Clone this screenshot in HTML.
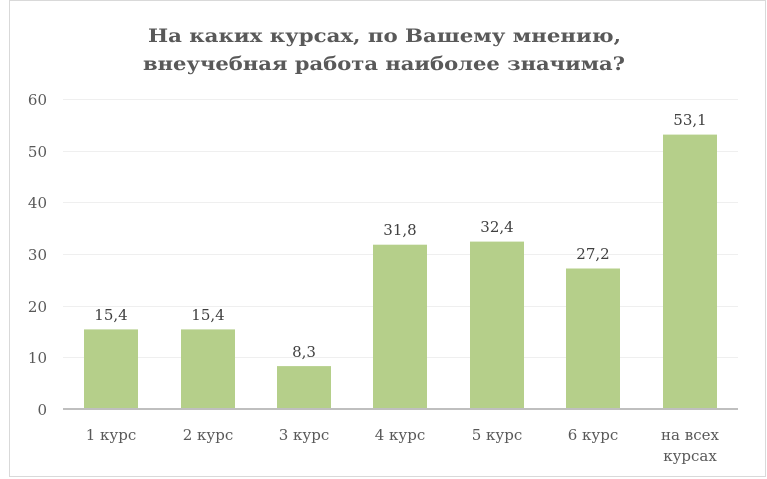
<!DOCTYPE html>
<html><head><meta charset="utf-8"><style>
body{margin:0;background:#fff;}
svg{display:block;font-family:"DejaVu Serif","Liberation Serif",serif;}
</style></head><body>
<svg width="767" height="479" viewBox="0 0 767 479">
<rect x="9.5" y="0.5" width="756" height="476" fill="#fff" stroke="#d9d9d9"/>
<text x="148" y="42" font-size="19" font-weight="bold" fill="#595959" textLength="473" lengthAdjust="spacingAndGlyphs">На каких курсах, по Вашему мнению,</text>
<text x="143" y="70" font-size="19" font-weight="bold" fill="#595959" textLength="482" lengthAdjust="spacingAndGlyphs">внеучебная работа наиболее значима?</text>
<g stroke="#efefef" stroke-width="1">
<line x1="63" x2="738" y1="99.5" y2="99.5"/>
<line x1="63" x2="738" y1="151.5" y2="151.5"/>
<line x1="63" x2="738" y1="202.5" y2="202.5"/>
<line x1="63" x2="738" y1="254.5" y2="254.5"/>
<line x1="63" x2="738" y1="306.5" y2="306.5"/>
<line x1="63" x2="738" y1="357.5" y2="357.5"/>
</g>
<g font-size="15" fill="#595959" text-anchor="end">
<text x="47" y="105">60</text><text x="47" y="157">50</text><text x="47" y="208">40</text>
<text x="47" y="260">30</text><text x="47" y="312">20</text><text x="47" y="363">10</text><text x="47" y="415">0</text>
</g>
<g fill="#b5cf8a">
<rect x="84" y="329.4" width="54" height="79.6"/>
<rect x="181" y="329.4" width="54" height="79.6"/>
<rect x="277" y="366.1" width="54" height="42.9"/>
<rect x="373" y="244.7" width="54" height="164.3"/>
<rect x="470" y="241.6" width="54" height="167.4"/>
<rect x="566" y="268.5" width="54" height="140.5"/>
<rect x="663" y="134.6" width="54" height="274.4"/>
</g>
<line x1="63" x2="738" y1="409" y2="409" stroke="#bfbfbf" stroke-width="2"/>
<g font-size="15" fill="#404040" text-anchor="middle">
<text x="111" y="320">15,4</text><text x="208" y="320">15,4</text><text x="304" y="357">8,3</text>
<text x="400" y="235">31,8</text><text x="497" y="232">32,4</text><text x="593" y="259">27,2</text><text x="690" y="125">53,1</text>
</g>
<g font-size="15" fill="#595959" text-anchor="middle">
<text x="111" y="440">1 курс</text><text x="208" y="440">2 курс</text><text x="304" y="440">3 курс</text>
<text x="400" y="440">4 курс</text><text x="497" y="440">5 курс</text><text x="593" y="440">6 курс</text>
<text x="690" y="440">на всех</text><text x="690" y="461">курсах</text>
</g>
</svg>
</body></html>
